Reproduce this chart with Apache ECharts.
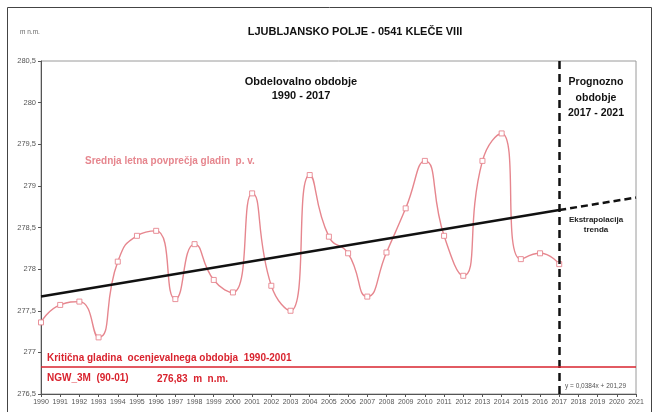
<!DOCTYPE html>
<html><head><meta charset="utf-8">
<script src="https://cdn.jsdelivr.net/npm/echarts@6/dist/echarts.min.js"></script>
<style>html,body{margin:0;padding:0;background:#fff}#c{width:658px;height:412px}</style>
</head><body><div id="c"></div>
<script>
const years = [1990,1991,1992,1993,1994,1995,1996,1997,1998,1999,2000,2001,2002,2003,2004,2005,2006,2007,2008,2009,2010,2011,2012,2013,2014,2015,2016,2017];
const levels = [277.36,277.57,277.61,277.18,278.09,278.40,278.46,277.64,278.30,277.87,277.72,278.91,277.80,277.50,279.13,278.39,278.19,277.67,278.20,278.73,279.30,278.40,277.92,279.30,279.63,278.12,278.19,278.06];
const trendYears = [1990, 2017, 2021];
const trendValues = [277.67, 278.71, 278.86];
const criticalLevel = 276.83;
const forecastStartYear = 2017;
const yTicks = [276.5,277,277.5,278,278.5,279,279.5,280,280.5];

const chart = echarts.init(document.getElementById('c'));
const salmon = '#e6868e';
const red = '#d9232e';
const fmtY = v => String(v).replace('.', ',');

chart.setOption({
  animation: false,
  grid: {left: 41, top: 61, right: 22, bottom: 18, show: true, borderColor: '#9a9a9a', borderWidth: 1},
  xAxis: {
    type: 'value', min: 1990, max: 2021, interval: 1,
    axisLine: {lineStyle: {color: '#555', width: 1}},
    axisTick: {show: true, length: 3, lineStyle: {color: '#555'}},
    axisLabel: {formatter: v => String(v), fontSize: 7, color: '#555', margin: 5, fontFamily: 'Arial'},
    splitLine: {show: false}
  },
  yAxis: {
    type: 'value', min: yTicks[0], max: yTicks[yTicks.length-1], interval: 0.5,
    axisLine: {show: true, lineStyle: {color: '#555', width: 1}},
    axisTick: {show: true, length: 3, lineStyle: {color: '#555'}},
    axisLabel: {formatter: fmtY, fontSize: 7.5, color: '#555', margin: 5, fontFamily: 'Arial'},
    splitLine: {show: false}
  },
  series: [
    {
      type: 'line', data: years.map((y,i)=>[y, levels[i]]),
      smooth: 0.55, symbol: 'rect', symbolSize: 5,
      lineStyle: {color: salmon, width: 1.4},
      itemStyle: {color: '#fff', borderColor: salmon, borderWidth: 0.9},
      z: 3
    },
    {
      type: 'line', data: [[trendYears[0], trendValues[0]], [trendYears[1], trendValues[1]]],
      symbol: 'none', lineStyle: {color: '#111', width: 2.5}, z: 4,
      markLine: {
        silent: true, symbol: 'none', label: {show: false},
        data: [
          {xAxis: forecastStartYear, lineStyle: {color: '#111', width: 2.5, type: [8, 5]}},
          {yAxis: criticalLevel, lineStyle: {color: red, width: 1.5, type: 'solid'}}
        ]
      }
    },
    {
      type: 'line', data: [[trendYears[1], trendValues[1]], [trendYears[2], trendValues[2]]],
      symbol: 'none', lineStyle: {color: '#111', width: 2.5, type: [7, 4]}, z: 4
    }
  ],
  graphic: [
    {type: 'rect', shape: {x: 7.5, y: 7.5, width: 644, height: 420}, style: {fill: 'none', stroke: '#444', lineWidth: 1}, z: -1},
    {type: 'text', x: 20, y: 32, style: {text: 'm n.m.', fontSize: 6.5, fill: '#666', fontFamily: 'Arial', verticalAlign: 'middle'}},
    {type: 'text', x: 355, y: 32, style: {text: 'LJUBLJANSKO POLJE - 0541 KLEČE VIII', fontSize: 11, fontWeight: 'bold', fill: '#111', fontFamily: 'Arial', align: 'center', verticalAlign: 'middle'}},
    {type: 'text', x: 301, y: 89, style: {text: 'Obdelovalno obdobje\n1990 - 2017', fontSize: 11, fontWeight: 'bold', fill: '#111', fontFamily: 'Arial', align: 'center', verticalAlign: 'middle', lineHeight: 14}},
    {type: 'text', x: 596, y: 98, style: {text: 'Prognozno\nobdobje\n2017 - 2021', fontSize: 10.5, fontWeight: 'bold', fill: '#111', fontFamily: 'Arial', align: 'center', verticalAlign: 'middle', lineHeight: 15.5}},
    {type: 'text', x: 85, y: 161, style: {text: 'Srednja letna povprečja gladin  p. v.', fontSize: 10, fontWeight: 'bold', fill: salmon, fontFamily: 'Arial', verticalAlign: 'middle'}},
    {type: 'text', x: 596, y: 225, style: {text: 'Ekstrapolacija\ntrenda', fontSize: 8, fontWeight: 'bold', fill: '#222', fontFamily: 'Arial', align: 'center', verticalAlign: 'middle', lineHeight: 10}},
    {type: 'text', x: 47, y: 358, style: {text: 'Kritična gladina  ocenjevalnega obdobja  1990-2001', fontSize: 10, fontWeight: 'bold', fill: red, fontFamily: 'Arial', verticalAlign: 'middle'}},
    {type: 'text', x: 47, y: 378, style: {text: 'NGW_3M  (90-01)', fontSize: 10, fontWeight: 'bold', fill: red, fontFamily: 'Arial', verticalAlign: 'middle'}},
    {type: 'text', x: 157, y: 379, style: {text: '276,83  m  n.m.', fontSize: 10, fontWeight: 'bold', fill: red, fontFamily: 'Arial', verticalAlign: 'middle'}},
    {type: 'text', x: 565, y: 386, style: {text: 'y = 0,0384x + 201,29', fontSize: 6.5, fill: '#555', fontFamily: 'Arial', verticalAlign: 'middle'}}
  ]
});
</script></body></html>
